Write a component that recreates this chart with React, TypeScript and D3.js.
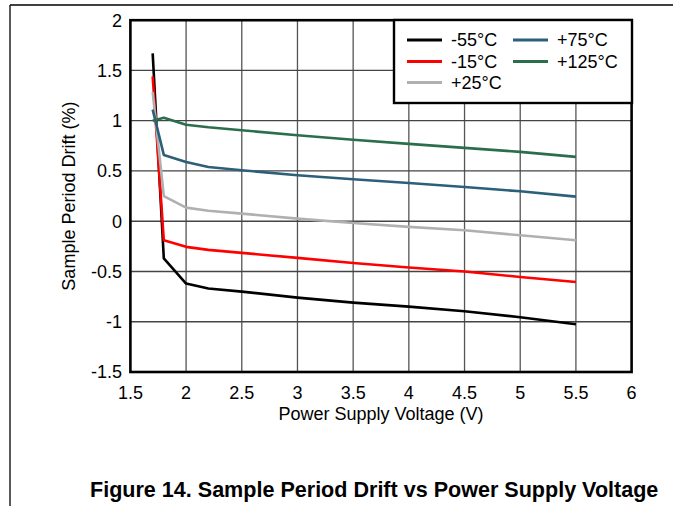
import React from "react";
import * as d3 from "d3";

const voltages = [1.7, 1.8, 2.0, 2.2, 2.5, 3.0, 3.5, 4.0, 4.5, 5.0, 5.5];
const driftM55 = [1.67, -0.37, -0.62, -0.67, -0.70, -0.76, -0.81, -0.85, -0.895, -0.955, -1.025];
const driftM15 = [1.44, -0.19, -0.255, -0.285, -0.315, -0.365, -0.415, -0.46, -0.50, -0.555, -0.605];
const driftP25 = [1.285, 0.25, 0.135, 0.105, 0.076, 0.026, -0.017, -0.056, -0.09, -0.14, -0.19];
const driftP75 = [1.11, 0.66, 0.59, 0.54, 0.507, 0.457, 0.417, 0.38, 0.34, 0.298, 0.245];
const driftP125 = [1.0, 1.03, 0.96, 0.935, 0.905, 0.855, 0.81, 0.77, 0.73, 0.69, 0.64];

const seriesNames = ["-55°C", "-15°C", "+25°C", "+75°C", "+125°C"];
const seriesColors = ["#000000", "#ff0000", "#b0b0b0", "#2c5f7a", "#2b6e4c"];
const seriesValues = [driftM55, driftM15, driftP25, driftP75, driftP125];

const xTicks = [1.5, 2, 2.5, 3, 3.5, 4, 4.5, 5, 5.5, 6];
const yTicks = [2, 1.5, 1, 0.5, 0, -0.5, -1, -1.5];

const W = 673;
const H = 506;
const FONT = "'Liberation Sans', Arial, Helvetica, sans-serif";

export default function App() {
  const x = d3.scaleLinear().domain([1.5, 6]).range([130.4, 631.6]);
  const y = d3.scaleLinear().domain([-1.5, 2]).range([372, 20.2]);
  const line = d3
    .line<number>()
    .x((_, i) => x(voltages[i]))
    .y((d) => y(d));

  const legendX = 394;
  const legendY = 20;
  const legendW = 238;
  const legendH = 83;
  const rowY = [40, 61.5, 82.5];
  const colX = [407, 513];

  const legendPos = [
    [0, 0],
    [0, 1],
    [0, 2],
    [1, 0],
    [1, 1],
  ];

  return (
    <svg
      width={W}
      height={H}
      style={{ position: "absolute", left: 0, top: 0, background: "#fff" }}
      fontFamily={FONT}
    >
      <rect x={0} y={0} width={W} height={H} fill="#fff" />
      {/* outer page frame */}
      <line x1={10} y1={5} x2={W} y2={5} stroke="#000" strokeWidth={1.3} />
      <line x1={10} y1={5} x2={10} y2={H} stroke="#000" strokeWidth={1.3} />

      {/* gridlines */}
      {xTicks.slice(1, -1).map((t) => (
        <line key={"gx" + t} x1={x(t)} x2={x(t)} y1={y(2)} y2={y(-1.5)} stroke="#555" strokeWidth={1.3} />
      ))}
      {yTicks.slice(1, -1).map((t) => (
        <line key={"gy" + t} x1={x(1.5)} x2={x(6)} y1={y(t)} y2={y(t)} stroke="#444" strokeWidth={1.3} />
      ))}

      {/* series */}
      {seriesValues.map((vals, i) => (
        <path
          key={seriesNames[i]}
          d={line(vals) || ""}
          fill="none"
          stroke={seriesColors[i]}
          strokeWidth={2.6}
          strokeLinejoin="round"
        />
      ))}

      {/* plot frame */}
      <rect
        x={x(1.5)}
        y={y(2)}
        width={x(6) - x(1.5)}
        height={y(-1.5) - y(2)}
        fill="none"
        stroke="#000"
        strokeWidth={2.6}
      />

      {/* legend */}
      <rect x={legendX} y={legendY} width={legendW} height={legendH} fill="#fff" stroke="#000" strokeWidth={2.4} />
      {seriesNames.map((name, i) => {
        const [c, r] = legendPos[i];
        const lx = colX[c];
        const ly = rowY[r];
        return (
          <g key={"lg" + name}>
            <line x1={lx} x2={lx + 35} y1={ly} y2={ly} stroke={seriesColors[i]} strokeWidth={3} />
            <text x={lx + 44} y={ly + 6.3} fontSize={18} fill="#000">
              {name}
            </text>
          </g>
        );
      })}

      {/* y tick labels */}
      {yTicks.map((t) => (
        <text key={"yt" + t} x={122} y={y(t) + 6.3} fontSize={18} textAnchor="end" fill="#000">
          {String(t)}
        </text>
      ))}
      {/* x tick labels */}
      {xTicks.map((t) => (
        <text key={"xt" + t} x={x(t)} y={399} fontSize={18} textAnchor="middle" fill="#000">
          {String(t)}
        </text>
      ))}

      {/* axis titles */}
      <text x={(x(1.5) + x(6)) / 2} y={420} fontSize={18} textAnchor="middle" fill="#000">
        Power Supply Voltage (V)
      </text>
      <text
        transform={`translate(75, ${(y(2) + y(-1.5)) / 2}) rotate(-90)`}
        fontSize={18}
        textAnchor="middle"
        fill="#000"
      >
        Sample Period Drift (%)
      </text>

      {/* figure caption */}
      <text x={90} y={497} fontSize={21.55} fontWeight="bold" fill="#000">
        Figure 14. Sample Period Drift vs Power Supply Voltage
      </text>
    </svg>
  );
}
